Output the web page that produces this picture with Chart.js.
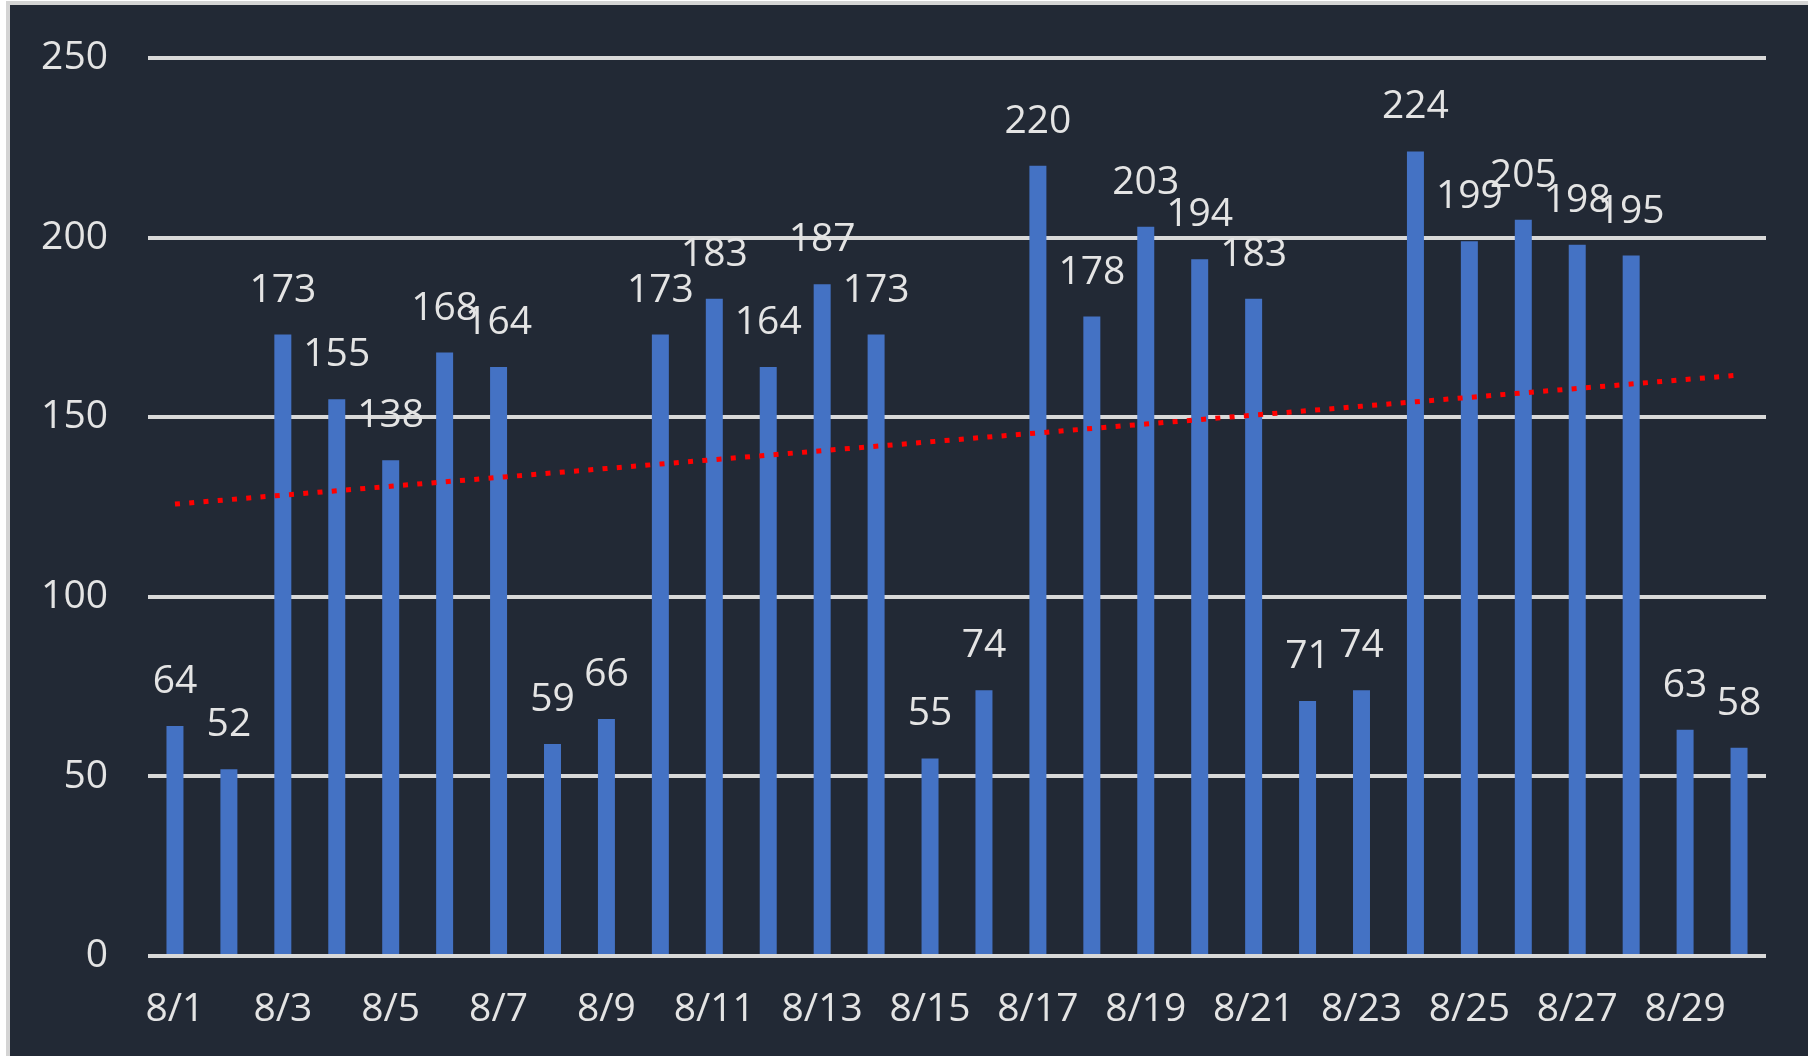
<!DOCTYPE html>
<html>
<head>
<meta charset="utf-8">
<script src="https://cdn.jsdelivr.net/npm/chart.js@4"></script>
<style>
  html, body { margin: 0; padding: 0; background: #ffffff; overflow: hidden; }
  #frame {
    position: absolute; left: 6px; top: 1px;
    width: 1802px; height: 1055px;
    border-left: 4px solid #d4d4d4; border-top: 4px solid #d4d4d4;
    box-sizing: border-box; background: #222935;
  }
  #wrap { position: absolute; left: 0; top: 0; width: 1798px; height: 1051px; }
</style>
</head>
<body>
<div id="frame"><div id="wrap"><canvas id="myChart"></canvas></div></div>
<script>
const labels = ['8/1','8/2','8/3','8/4','8/5','8/6','8/7','8/8','8/9','8/10',
  '8/11','8/12','8/13','8/14','8/15','8/16','8/17','8/18','8/19','8/20',
  '8/21','8/22','8/23','8/24','8/25','8/26','8/27','8/28','8/29','8/30']
const values = [64, 52, 173, 155, 138, 168, 164, 59, 66, 173,
  183, 164, 187, 173, 55, 74, 220, 178, 203, 194,
  183, 71, 74, 224, 199, 205, 198, 195, 63, 58]
const yTicks = [0, 50, 100, 150, 200, 250]

// linear trendline (least squares), like excel's
const n = values.length
const xMean = (n - 1) / 2
const yMean = values.reduce((a, b) => a + b, 0) / n
let sxy = 0, sxx = 0
values.forEach((v, i) => { sxy += (i - xMean) * (v - yMean); sxx += (i - xMean) ** 2 })
const slope = sxy / sxx
const trend = values.map((v, i) => yMean + slope * (i - xMean))

const textColor = '#e4e4e4'
const font = { family: "'Open Sans', sans-serif", size: 39 }

const ctx = document.getElementById('myChart').getContext('2d')

new Chart(ctx, {
  type: 'bar',
  data: {
    labels,
    datasets: [{
      type: 'line',
      data: trend,
      borderColor: '#ff0000',
      borderWidth: 5,
      borderDash: [5, 9.3],
      pointRadius: 0,
      fill: false,
      order: 0,
    }, {
      data: values,
      backgroundColor: '#4472c4',
      barPercentage: 0.315,
      categoryPercentage: 1,
      order: 1,
    }],
  },
  options: {
    responsive: true,
    maintainAspectRatio: false,
    animation: false,
    layout: { padding: { top: 53, right: 42, left: 0, bottom: 0 } },
    plugins: {
      legend: { display: false },
      tooltip: { enabled: false },
    },
    scales: {
      y: {
        min: 0,
        max: 250,
        afterBuildTicks: (scale) => { scale.ticks = yTicks.map(v => ({ value: v })) },
        afterFit: (scale) => {
          scale.width = 138
          scale.paddingTop = 0
          scale.paddingBottom = 0
        },
        grid: { color: '#d9d9d9', lineWidth: 4, drawTicks: false },
        border: { display: false },
        ticks: { color: textColor, font, padding: 40 },
      },
      x: {
        afterFit: (scale) => {
          scale.height = 100
          scale.paddingLeft = 0
          scale.paddingRight = 0
        },
        grid: { display: false },
        border: { display: false },
        ticks: {
          color: textColor, font, padding: 22,
          autoSkip: false, maxRotation: 0,
          callback: (v, i) => i % 2 === 0 ? labels[i] : '',
        },
      },
    },
  },
  plugins: [{
    id: 'valueLabels',
    afterDatasetsDraw(chart) {
      const c = chart.ctx
      const meta = chart.getDatasetMeta(1)
      c.save()
      c.fillStyle = textColor
      c.font = `${font.size}px ${font.family}`
      c.textAlign = 'center'
      c.textBaseline = 'alphabetic'
      meta.data.forEach((bar, i) => {
        c.fillText(String(values[i]), bar.x, bar.y - 33)
      })
      c.restore()
    },
  }],
})
</script>
</body>
</html>
